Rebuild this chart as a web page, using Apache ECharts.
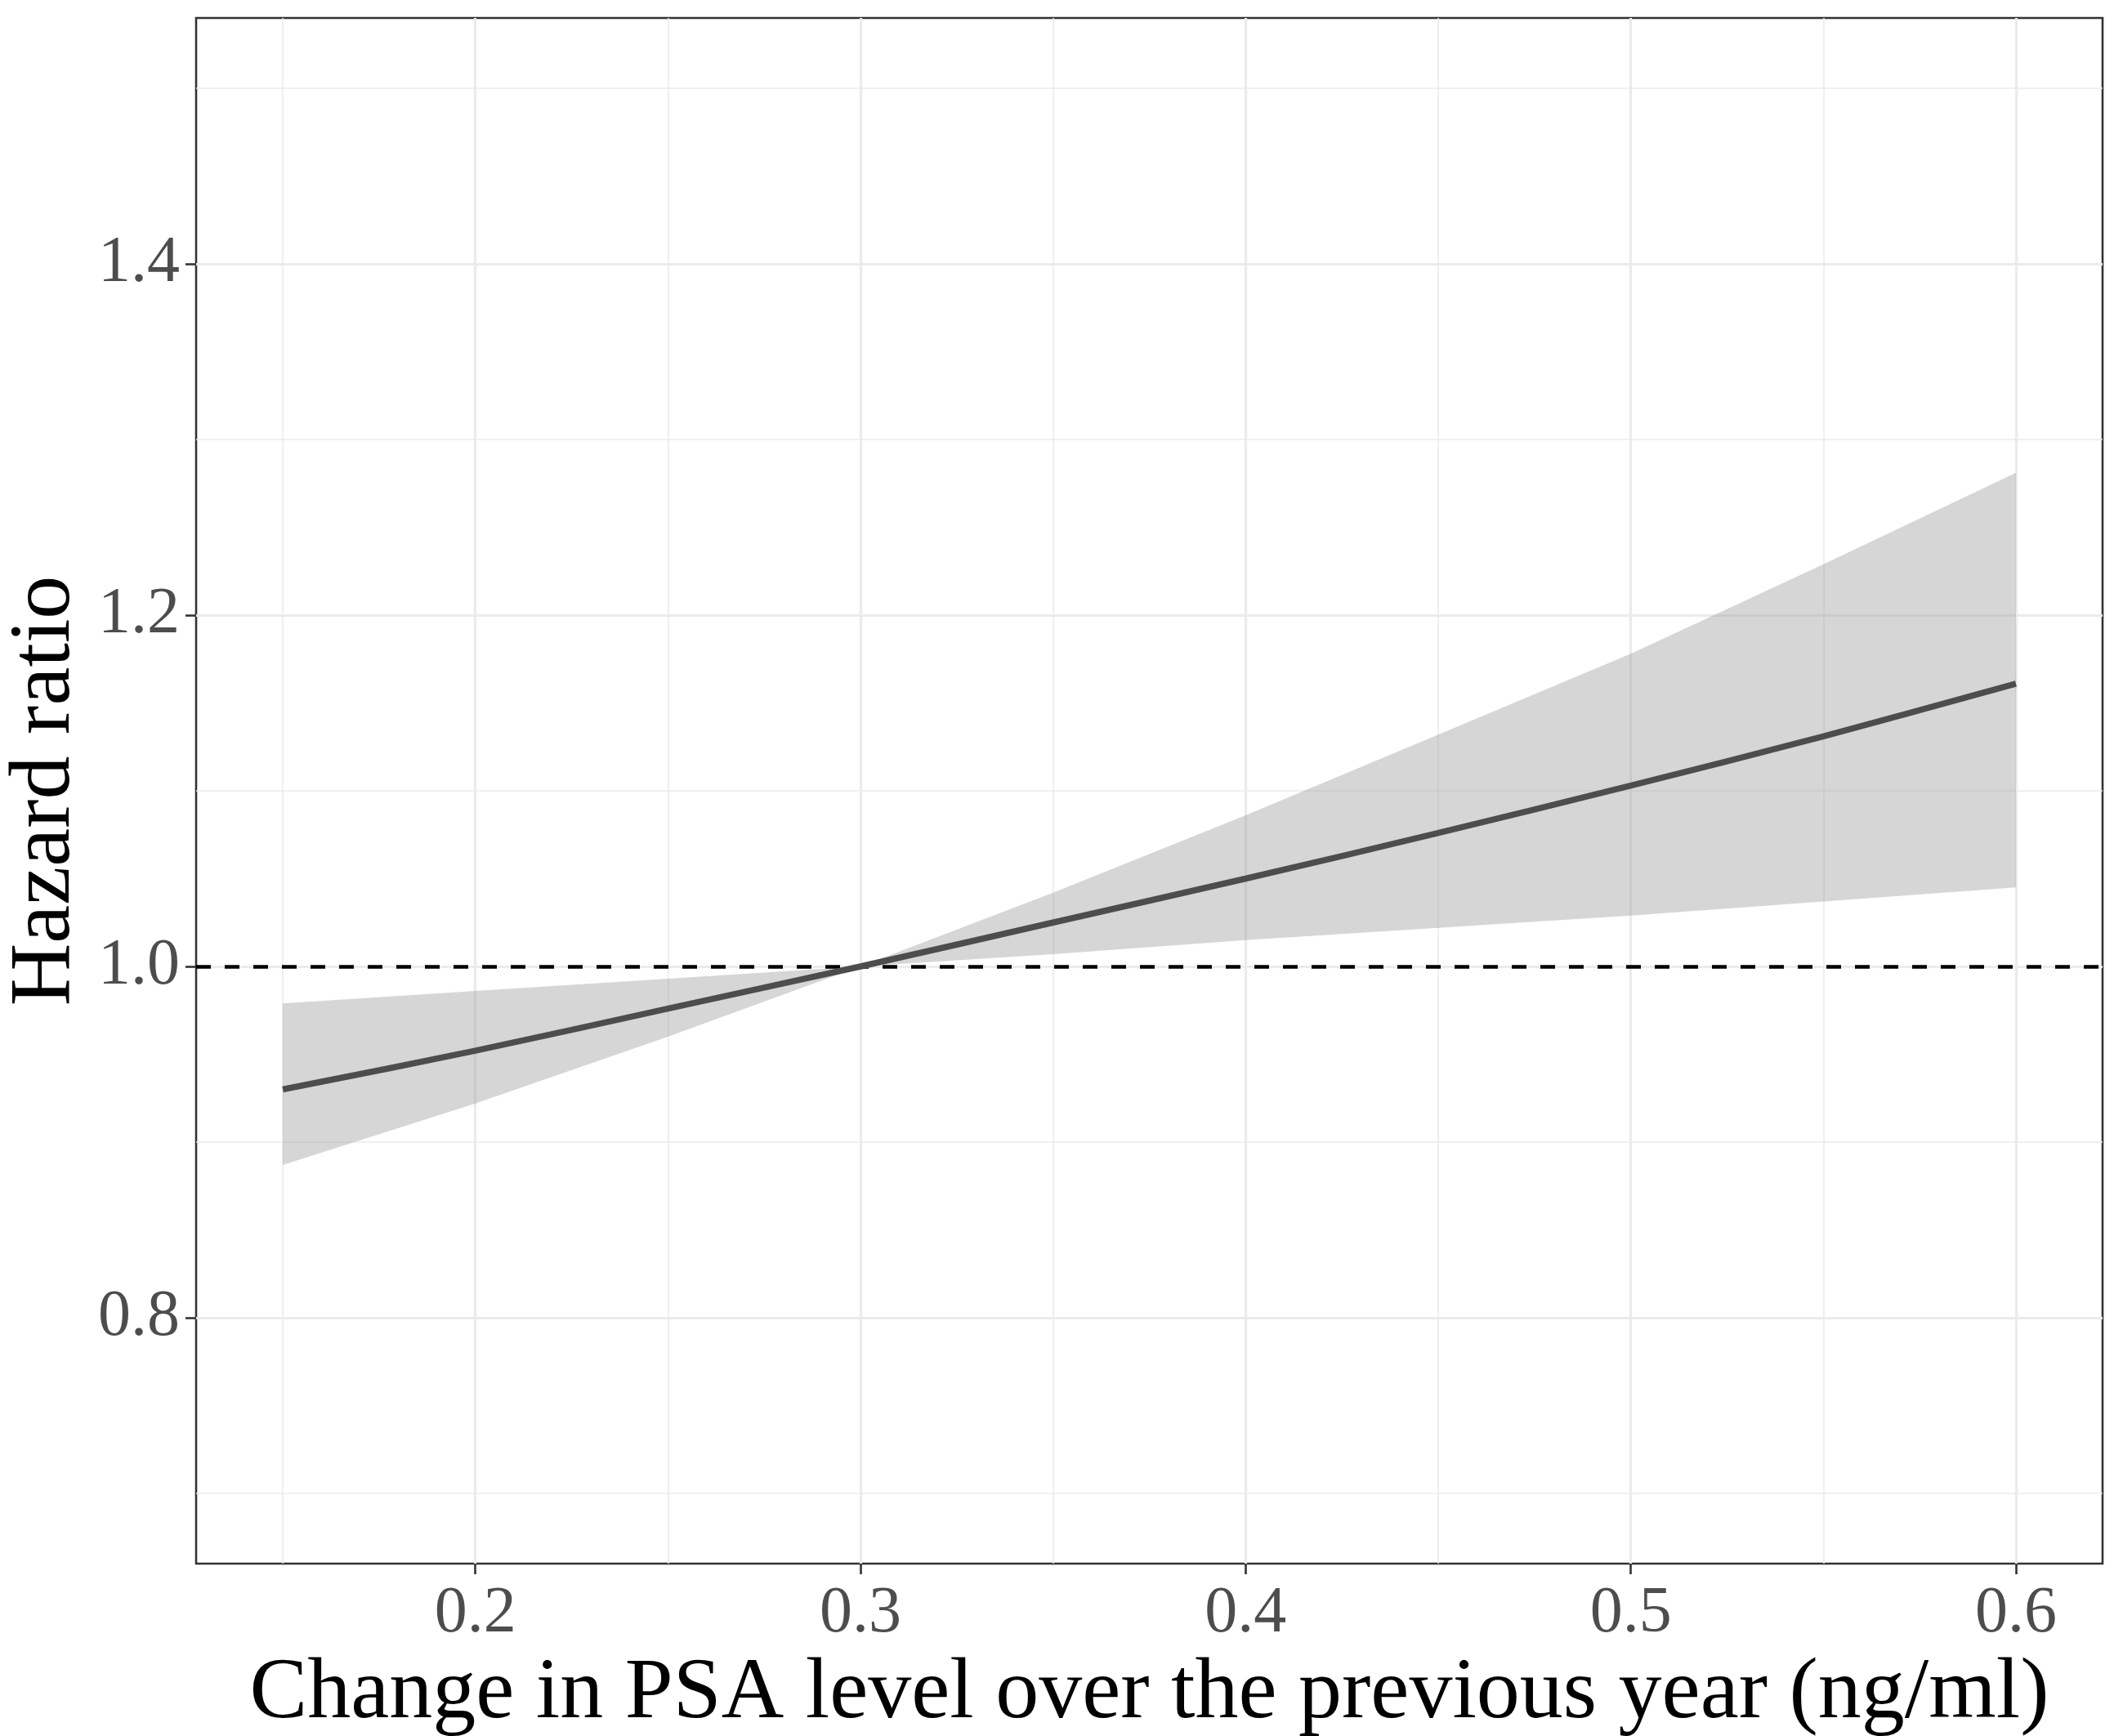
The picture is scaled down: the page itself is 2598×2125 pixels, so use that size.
<!DOCTYPE html>
<html>
<head>
<meta charset="utf-8">
<script src="https://cdn.jsdelivr.net/npm/echarts@6/dist/echarts.min.js"></script>
<style>html,body{margin:0;padding:0;background:#fff}#c{width:2598px;height:2125px}</style>
</head>
<body>
<div id="c"></div>
<script>
// Data
const psaChange = [0.15, 0.20, 0.25, 0.30, 0.35, 0.40, 0.45, 0.50, 0.55, 0.60];
const hazardRatio = [0.930, 0.952, 0.976, 1.000, 1.025, 1.050, 1.076, 1.103, 1.131, 1.161];
const ciLower = [0.887, 0.922, 0.960, 1.000, 1.007, 1.015, 1.022, 1.029, 1.037, 1.045];
const ciUpper = [0.979, 0.986, 0.993, 1.000, 1.042, 1.086, 1.132, 1.178, 1.229, 1.281];
const referenceHR = 1.0;
const xMajorTicks = [0.2, 0.3, 0.4, 0.5, 0.6];
const xMinorTicks = [0.15, 0.25, 0.35, 0.45, 0.55];
const yMajorTicks = [0.8, 1.0, 1.2, 1.4];
const yMinorTicks = [0.7, 0.9, 1.1, 1.3, 1.5];
const xLimits = [0.1275, 0.6225];
const yLimits = [0.66, 1.54];

const FONT = '"Liberation Serif", "DejaVu Serif", serif';
const chart = echarts.init(document.getElementById('c'), null, {renderer: 'canvas'});

const gridLineData = []
  .concat(xMinorTicks.map(v => ({xAxis: v, lineStyle: {width: 1.6}})))
  .concat(yMinorTicks.map(v => ({yAxis: v, lineStyle: {width: 1.6}})))
  .concat(xMajorTicks.map(v => ({xAxis: v, lineStyle: {width: 3.2}})))
  .concat(yMajorTicks.map(v => ({yAxis: v, lineStyle: {width: 3.2}})));

const ribbonData = psaChange.map((x, i) => [x, ciLower[i], ciUpper[i]]);

chart.setOption({
  animation: false,
  backgroundColor: '#ffffff',
  grid: {left: 240, right: 25, top: 22, bottom: 211, outerBoundsMode: 'none', containLabel: false,
    show: true, borderColor: '#333333', borderWidth: 2.6, backgroundColor: '#ffffff'},
  xAxis: {
    type: 'value', min: xLimits[0], max: xLimits[1],
    name: 'Change in PSA level over the previous year (ng/ml)',
    nameLocation: 'middle', nameGap: 95,
    nameTextStyle: {fontFamily: FONT, fontSize: 106, color: '#000000'},
    axisLine: {show: false},
    axisTick: {show: true, length: 13, customValues: xMajorTicks, lineStyle: {color: '#333333', width: 2.6}},
    axisLabel: {show: true, customValues: xMajorTicks, margin: 22, fontFamily: FONT, fontSize: 80, color: '#4d4d4d', formatter: v => v.toFixed(1)},
    splitLine: {show: false}
  },
  yAxis: {
    type: 'value', min: yLimits[0], max: yLimits[1],
    name: 'Hazard ratio',
    nameLocation: 'middle', nameGap: 130, nameRotate: 90,
    nameTextStyle: {fontFamily: FONT, fontSize: 106, color: '#000000'},
    axisLine: {show: false},
    axisTick: {show: true, length: 13, customValues: yMajorTicks, lineStyle: {color: '#333333', width: 2.6}},
    axisLabel: {show: true, customValues: yMajorTicks, margin: 20, fontFamily: FONT, fontSize: 80, color: '#4d4d4d', formatter: v => v.toFixed(1)},
    splitLine: {show: false}
  },
  series: [
    {
      type: 'line', name: 'grid', data: [], silent: true, z: 1,
      markLine: {silent: true, symbol: 'none', z: 1, label: {show: false},
        lineStyle: {color: '#ebebeb', type: 'solid'}, emphasis: {disabled: true},
        data: gridLineData}
    },
    {
      type: 'custom', name: 'ci', z: 2, silent: true,
      data: ribbonData,
      renderItem: function (params, api) {
        if (params.dataIndex !== 0) return null;
        const pts = [];
        for (let i = 0; i < ribbonData.length; i++) pts.push(api.coord([ribbonData[i][0], ribbonData[i][2]]));
        for (let i = ribbonData.length - 1; i >= 0; i--) pts.push(api.coord([ribbonData[i][0], ribbonData[i][1]]));
        return {type: 'polygon', shape: {points: pts}, style: {fill: 'rgba(153,153,153,0.4)', stroke: 'none'}};
      }
    },
    {
      type: 'line', name: 'ref', data: [], silent: true, z: 3,
      markLine: {silent: true, symbol: 'none', z: 3, label: {show: false}, emphasis: {disabled: true},
        lineStyle: {color: '#000000', width: 4.5, type: [18, 17]},
        data: [{yAxis: referenceHR}]}
    },
    {
      type: 'line', name: 'HR', z: 4, silent: true,
      data: psaChange.map((x, i) => [x, hazardRatio[i]]),
      smooth: 0.3, showSymbol: false, symbol: 'none',
      lineStyle: {color: '#4d4d4d', width: 7.5}
    }
  ]
});
</script>
</body>
</html>
